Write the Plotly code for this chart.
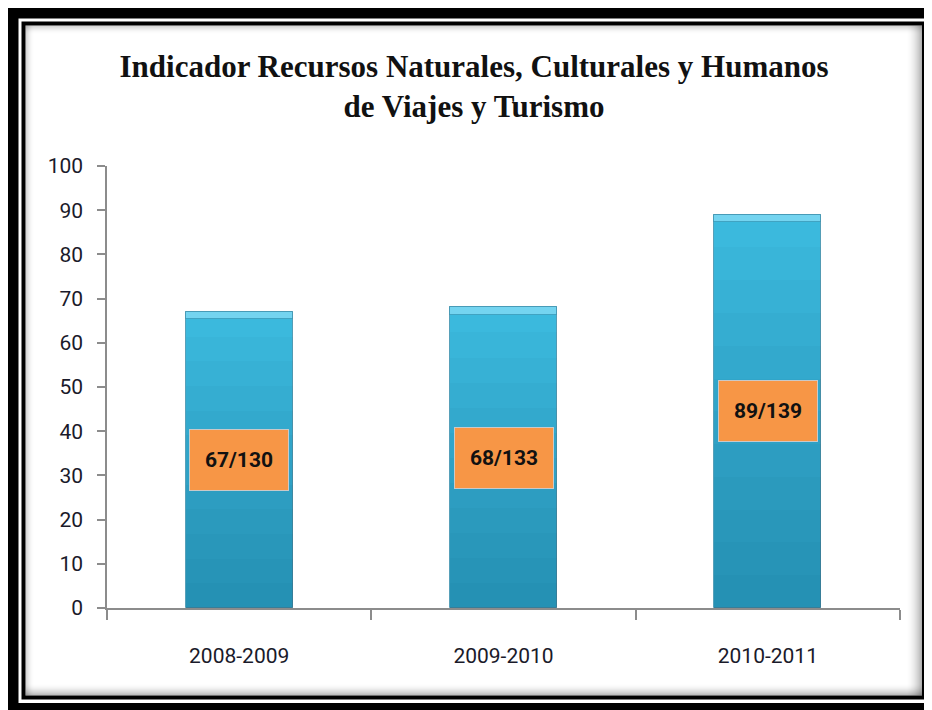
import plotly.graph_objects as go

# ---- data ----
categories = ["2008-2009", "2009-2010", "2010-2011"]
values = [67, 68, 89]
rank_labels = ["67/130", "68/133", "89/139"]
y_ticks = [0, 10, 20, 30, 40, 50, 60, 70, 80, 90, 100]
title_text = "Indicador Recursos Naturales, Culturales y Humanos<br>de Viajes y Turismo"

# ---- layout geometry (screen pixels; page body has an 8px margin) ----
OFF = 8
W, H = 932 - OFF, 710 - OFF
L, R, T, B = 107 - OFF, 900 - OFF, 166 - OFF, 608 - OFF


def px(x):
    return (x - OFF - L) / (R - L)


def py(y):
    return (B - (y - OFF)) / (B - T)


BAR_W = 0.405
NARROW = "Liberation Sans Narrow, Arial Narrow, Roboto, sans-serif"

fig = go.Figure()

# base bar
fig.add_trace(go.Bar(
    x=categories, y=values, width=BAR_W,
    marker=dict(color="#3DBDE2", line=dict(color="rgba(30,110,140,0.55)", width=1)),
    hoverinfo="skip", showlegend=False,
))
# vertical gradient (darker toward the bottom)
N = 12
for k in range(1, N + 1):
    fig.add_trace(go.Bar(
        x=categories, y=[v * k / N for v in values], width=BAR_W,
        marker=dict(color="rgba(10,60,90,0.03)", line=dict(width=0)),
        hoverinfo="skip", showlegend=False,
    ))
# bevel highlight at the top
fig.add_trace(go.Bar(
    x=categories, y=[1.6] * len(values), base=[v - 1.6 for v in values],
    width=BAR_W,
    marker=dict(color="#74D4F0", line=dict(color="rgba(30,110,140,0.4)", width=1)),
    hoverinfo="skip", showlegend=False,
))

# data labels (orange boxes centered in bars)
annotations = []
for c, v, lab in zip(categories, values, rank_labels):
    annotations.append(dict(
        x=c, y=v / 2, xref="x", yref="y", text="<b>" + lab + "</b>",
        showarrow=False, font=dict(family=NARROW, size=21, color="#111"),
        bgcolor="#F79646", bordercolor="#C9C9C9", borderwidth=1, borderpad=0,
        width=98, height=60, xanchor="center", yanchor="middle",
    ))

shapes = []


def rect(x0, y0, x1, y1, color):
    shapes.append(dict(type="rect", xref="paper", yref="paper",
                       x0=px(x0), x1=px(x1), y0=py(y1), y1=py(y0),
                       fillcolor=color, line=dict(width=0), layer="below"))


# frame (screen coordinates)
rect(8, 8, 945, 715, "black")
rect(18.5, 18.5, 929, 703, "white")
rect(21.5, 21.5, 926, 699.5, "black")
rect(25.5, 25.5, 922, 695.5, "white")
# inner shadow
for i in range(16):
    a = 0.30 * (1 - i / 16) ** 2
    rect(922 - i - 1, 25.5, 922 - i, 695.5, f"rgba(0,0,0,{a:.3f})")
for i in range(12):
    a = 0.30 * (1 - i / 12) ** 2
    rect(25.5, 695.5 - i - 1, 922, 695.5 - i, f"rgba(0,0,0,{a:.3f})")
for i in range(9):
    a = 0.18 * (1 - i / 9) ** 2
    rect(25.5, 25.5 + i, 922, 25.5 + i + 1, f"rgba(0,0,0,{a:.3f})")
    rect(25.5 + i, 25.5, 25.5 + i + 1, 695.5, f"rgba(0,0,0,{a:.3f})")

fig.update_layout(
    width=W, height=H,
    margin=dict(l=L, r=W - R, t=T, b=H - B, pad=0),
    paper_bgcolor="white", plot_bgcolor="rgba(0,0,0,0)",
    barmode="overlay", bargap=0,
    showlegend=False,
    title=dict(
        text="<b>" + title_text + "</b>",
        font=dict(family="Liberation Serif, DejaVu Serif, serif", size=31, color="#111"),
        x=(474 - OFF) / W, xanchor="center", xref="container",
        y=1 - 69 / H, yanchor="top", yref="container",
    ),
    xaxis=dict(
        showline=True, linecolor="#8C8C8C", linewidth=1.5,
        ticks="outside", tickson="boundaries", ticklen=10, tickcolor="#8C8C8C", tickwidth=1.5,
        tickfont=dict(family=NARROW, size=21, color="#1a1a2a"),
        ticklabelstandoff=28, showgrid=False,
    ),
    yaxis=dict(
        range=[0, 100], tickvals=y_ticks,
        showline=True, linecolor="#8C8C8C", linewidth=1.5,
        ticks="outside", ticklen=8, tickcolor="#8C8C8C", tickwidth=1.5,
        tickfont=dict(family=NARROW, size=21, color="#1a1a2a"),
        ticklabelstandoff=10, showgrid=False, zeroline=False,
    ),
    annotations=annotations,
    shapes=shapes,
)

fig.write_html("out.html")
